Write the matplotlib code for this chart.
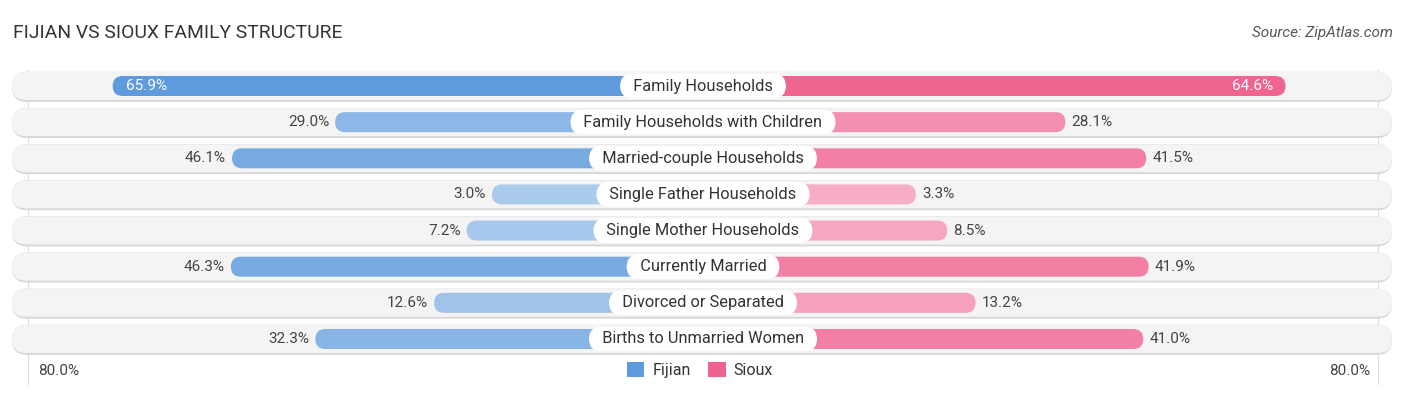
import matplotlib.pyplot as plt
from matplotlib.patches import FancyBboxPatch, Patch
import matplotlib.colors as mcolors
import numpy as np

plt.rcParams['font.family'] = ['Roboto', 'DejaVu Sans']

# DATA
categories = ["Family Households", "Family Households with Children",
              "Married-couple Households", "Single Father Households",
              "Single Mother Households", "Currently Married",
              "Divorced or Separated", "Births to Unmarried Women"]
fijian = [65.9, 29.0, 46.1, 3.0, 7.2, 46.3, 12.6, 32.3]
sioux = [64.6, 28.1, 41.5, 3.3, 8.5, 41.9, 13.2, 41.0]
series_names = ["Fijian", "Sioux"]
axis_max = 80.0

BLUE = "#5f9bdc"
PINK = "#f0628f"

W, H = 1406, 395
PX = 1 / 6.03      # data x units per pixel
PY = 1 / 36.14     # data y units per pixel
OFF = 32.0         # space kept for the centre label (in % units)

fig = plt.figure(figsize=(W / 100, H / 100), dpi=100)
ax = fig.add_axes([0, 0, 1, 1])
ax.set_xlim(-703 * PX, (W - 703) * PX)
ax.set_ylim((H - 86) * PY, -86 * PY)
ax.axis("off")


def pill(x0, x1, y, h_px, color, z, alpha=1.0):
    r = h_px / 2 * PX
    p = FancyBboxPatch((x0, y - h_px / 2 * PY), x1 - x0, h_px * PY,
                       boxstyle="round,pad=0,rounding_size=%f" % r,
                       mutation_aspect=PY / PX, fc=color, ec="none",
                       alpha=alpha, zorder=z)
    ax.add_patch(p)


def shade(base, v):
    t = 0.5 + 0.5 * min(v / 66.0, 1.0)
    c = np.array(mcolors.to_rgb(base))
    return tuple(1 - t * (1 - c))


edge = OFF + axis_max
xl, xr = -691 * PX, 689 * PX
for i, cat in enumerate(categories):
    # row background with a soft outline
    pill(xl, xr, i + 0.8 * PY, 30, "#d6d6d6", 1)
    pill(xl, xr, i, 28, "#f4f4f4", 2)

    fv, sv = fijian[i], sioux[i]
    pill(-(OFF + fv), 0, i, 20, shade(BLUE, fv), 3)
    pill(0, OFF + sv, i, 20, shade(PINK, sv), 3)

    if fv > 55:
        ax.text(-(OFF + fv) + 13 * PX, i, "%.1f%%" % fv, ha="left", va="center",
                fontsize=11, color="white", zorder=5)
    else:
        ax.text(-(OFF + fv) - 6 * PX, i, "%.1f%%" % fv, ha="right", va="center",
                fontsize=11, color="#444444", zorder=5)
    if sv > 55:
        ax.text(OFF + sv - 12 * PX, i, "%.1f%%" % sv, ha="right", va="center",
                fontsize=11, color="white", zorder=5)
    else:
        ax.text(OFF + sv + 6 * PX, i, "%.1f%%" % sv, ha="left", va="center",
                fontsize=11, color="#444444", zorder=5)

    ax.text(0, i, "  " + cat + "  ", ha="center", va="center", fontsize=11.8,
            color="#333333", zorder=6,
            bbox=dict(boxstyle="round,pad=0.3,rounding_size=0.8",
                      fc="white", ec="none"))

# thin gridlines at the 80% limits
for s in (-1, 1):
    ax.plot([s * edge, s * edge], [-0.45, 7.5 + 0.75], color="#dddddd", lw=0.8,
            zorder=0.5)

fig.text(38 / W, 1 - 371 / H, "%.1f%%" % axis_max, ha="left", va="center",
         fontsize=11, color="#444444")
fig.text(1370 / W, 1 - 371 / H, "%.1f%%" % axis_max, ha="right", va="center",
         fontsize=11, color="#444444")

fig.text(13 / W, 1 - 33 / H, "FIJIAN VS SIOUX FAMILY STRUCTURE", ha="left",
         va="center", fontsize=13.9, color="#333333")
fig.text(1393 / W, 1 - 33 / H, "Source: ZipAtlas.com", ha="right", va="center",
         fontsize=11, color="#555555", style="italic")

handles = [Patch(fc=BLUE, ec="none"), Patch(fc=PINK, ec="none")]
fig.legend(handles, series_names, loc="center", bbox_to_anchor=(700 / W, 1 - 370 / H),
           ncol=2, frameon=False, fontsize=11.5, handlelength=1.1, handleheight=1.1,
           handletextpad=0.5, columnspacing=1.1, labelcolor="#333333")

fig.savefig("out.png", dpi=100)
